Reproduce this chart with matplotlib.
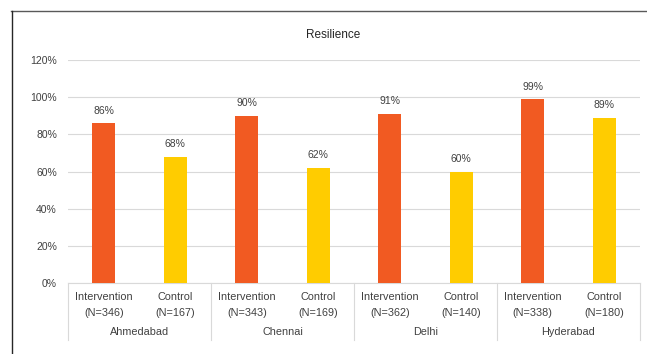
import matplotlib.pyplot as plt
from matplotlib.lines import Line2D
from matplotlib.ticker import PercentFormatter
from matplotlib import transforms

# data
cities = ["Ahmedabad", "Chennai", "Delhi", "Hyderabad"]
groups = ["Intervention", "Control"]
n_sizes = [[346, 167], [343, 169], [362, 140], [338, 180]]
resilience = [[86, 68], [90, 62], [91, 60], [99, 89]]

colors = ["#F15A22", "#FFCC00"]
text_col = "#404040"
grid_col = "#D9D9D9"

plt.rcParams['font.family'] = ['Liberation Sans', 'DejaVu Sans']

fig = plt.figure(figsize=(6.47, 3.54), dpi=100)
ax = fig.add_axes([68 / 647, 1 - 283 / 354, 572 / 647, 223 / 354])

# bars
for i, city in enumerate(cities):
    for j in range(2):
        x = i * 2 + j
        v = resilience[i][j]
        ax.bar(x, v, width=0.32, color=colors[j], zorder=3)
        ax.text(x, v + 4, f"{v}%", ha='center', va='bottom',
                fontsize=7.5, color=text_col)

ax.set_xlim(-0.5, len(cities) * 2 - 0.5)
ax.set_ylim(0, 120)
ax.set_yticks(range(0, 121, 20))
ax.yaxis.set_major_formatter(PercentFormatter(decimals=0))
ax.tick_params(axis='y', length=0, labelsize=7.5, labelcolor=text_col, pad=8)
ax.set_xticks([])
ax.grid(axis='y', color=grid_col, linewidth=0.8, zorder=0)
for s in ['top', 'right', 'left']:
    ax.spines[s].set_visible(False)
ax.spines['bottom'].set_color(grid_col)

# category axis labels
trans = transforms.blended_transform_factory(ax.transData, ax.transAxes)
px = 1 / 223
for i, city in enumerate(cities):
    for j in range(2):
        x = i * 2 + j
        ax.text(x, -14 * px, groups[j], ha='center', va='center',
                transform=trans, fontsize=7.8, color=text_col)
        ax.text(x, -30 * px, f"(N={n_sizes[i][j]})", ha='center', va='center',
                transform=trans, fontsize=7.8, color=text_col)
    ax.text(i * 2 + 0.5, -49 * px, city, ha='center', va='center',
            transform=trans, fontsize=7.8, color=text_col)
for k in range(len(cities) + 1):
    ax.add_line(Line2D([k * 2 - 0.5] * 2, [0, -57 * px], transform=trans,
                       color=grid_col, linewidth=0.8, clip_on=False))

fig.text(333 / 647, 1 - 35 / 354, "Resilience", ha='center', va='center',
         fontsize=8.5, color='#262626')

# chart frame
fig.add_artist(Line2D([11 / 647, 1], [1 - 11 / 354] * 2, color='#595959', linewidth=1))
fig.add_artist(Line2D([12 / 647] * 2, [0, 1 - 11 / 354], color='#262626', linewidth=1))

fig.savefig("out.png", dpi=100)
